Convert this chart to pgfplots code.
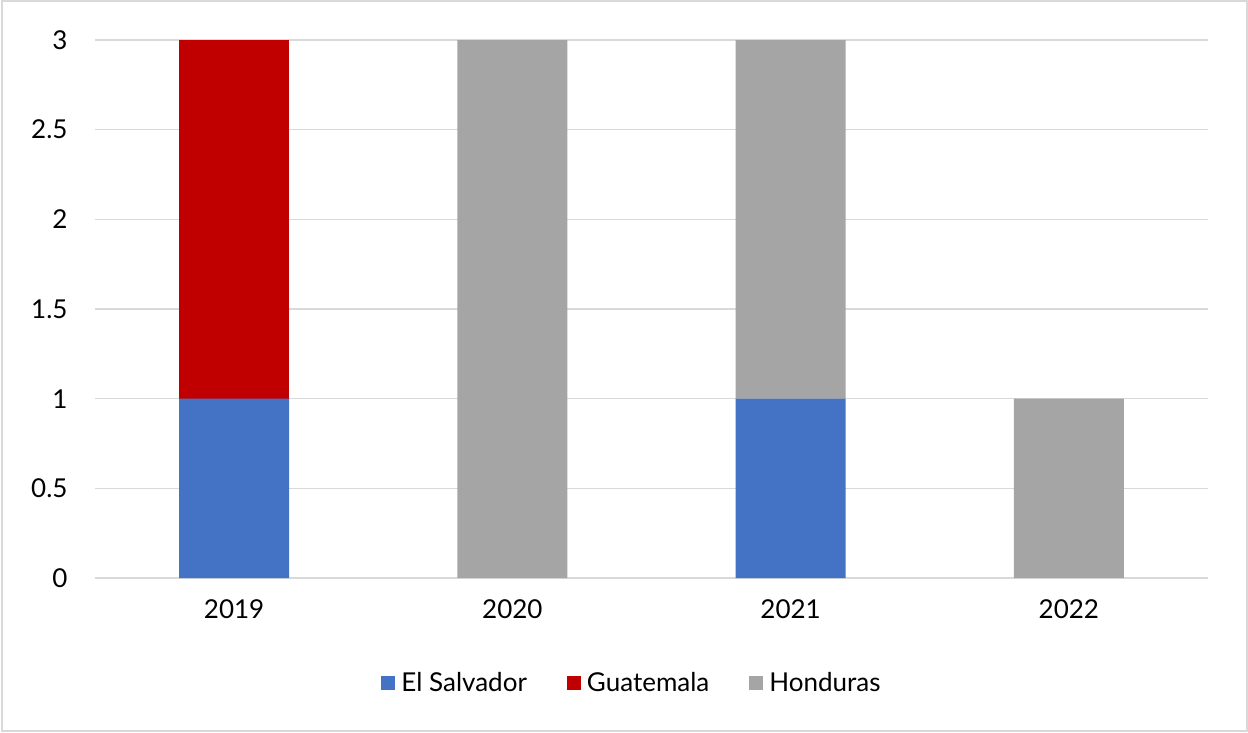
\documentclass[border=0pt]{standalone}
\usepackage{fontspec}
\setmainfont{Lato}
\usepackage{pgfplots}
\pgfplotsset{compat=1.18}
\definecolor{cblue}{HTML}{4472C4}
\definecolor{cred}{HTML}{C00000}
\definecolor{cgray}{HTML}{A5A5A5}
\definecolor{gridc}{HTML}{D9D9D9}
\begin{document}
\begin{tikzpicture}[x=1pt,y=1pt]
\useasboundingbox (0,0) rectangle (1248,732);
\draw[gridc,line width=2pt] (1.5,1.5) rectangle (1246.5,730.5);
\begin{axis}[
  at={(95pt,154pt)}, anchor=south west,
  scale only axis, width=1113pt, height=538pt,
  ybar stacked, bar width=110pt,
  xmin=-0.5, xmax=3.5, ymin=0, ymax=3,
  xtick={0,1,2,3}, xticklabels={2019,2020,2021,2022},
  ytick={0,0.5,1,1.5,2,2.5,3},
  /pgf/number format/assume math mode=true,
  yticklabel style={font=\fontsize{26}{30}\selectfont, xshift=-24pt},
  xticklabel style={font=\fontsize{26}{30}\selectfont, yshift=-18pt},
  major tick length=0pt,
  ymajorgrids, grid style={gridc, line width=1.3pt},
  axis x line*=bottom, axis y line*=left,
  x axis line style={draw=gridc, line width=1.6pt, -},
  y axis line style={draw=none},
  legend style={at={(0.4825,-0.195)}, anchor=center, draw=none,
    font=\fontsize{26}{30}\selectfont, legend columns=-1,
    /tikz/every even column/.append style={column sep=38pt},
    /tikz/every odd column/.append style={column sep=4pt}},
  legend image code/.code={\fill[#1] (0pt,-7pt) rectangle (14pt,7pt);},
]
\addplot[fill=cblue, draw=none] coordinates {(0,1) (1,0) (2,1) (3,0)};
\addplot[fill=cred, draw=none] coordinates {(0,2) (1,0) (2,0) (3,0)};
\addplot[fill=cgray, draw=none] coordinates {(0,0) (1,3) (2,2) (3,1)};
\legend{El Salvador, Guatemala, Honduras}
\end{axis}
\end{tikzpicture}
\end{document}
